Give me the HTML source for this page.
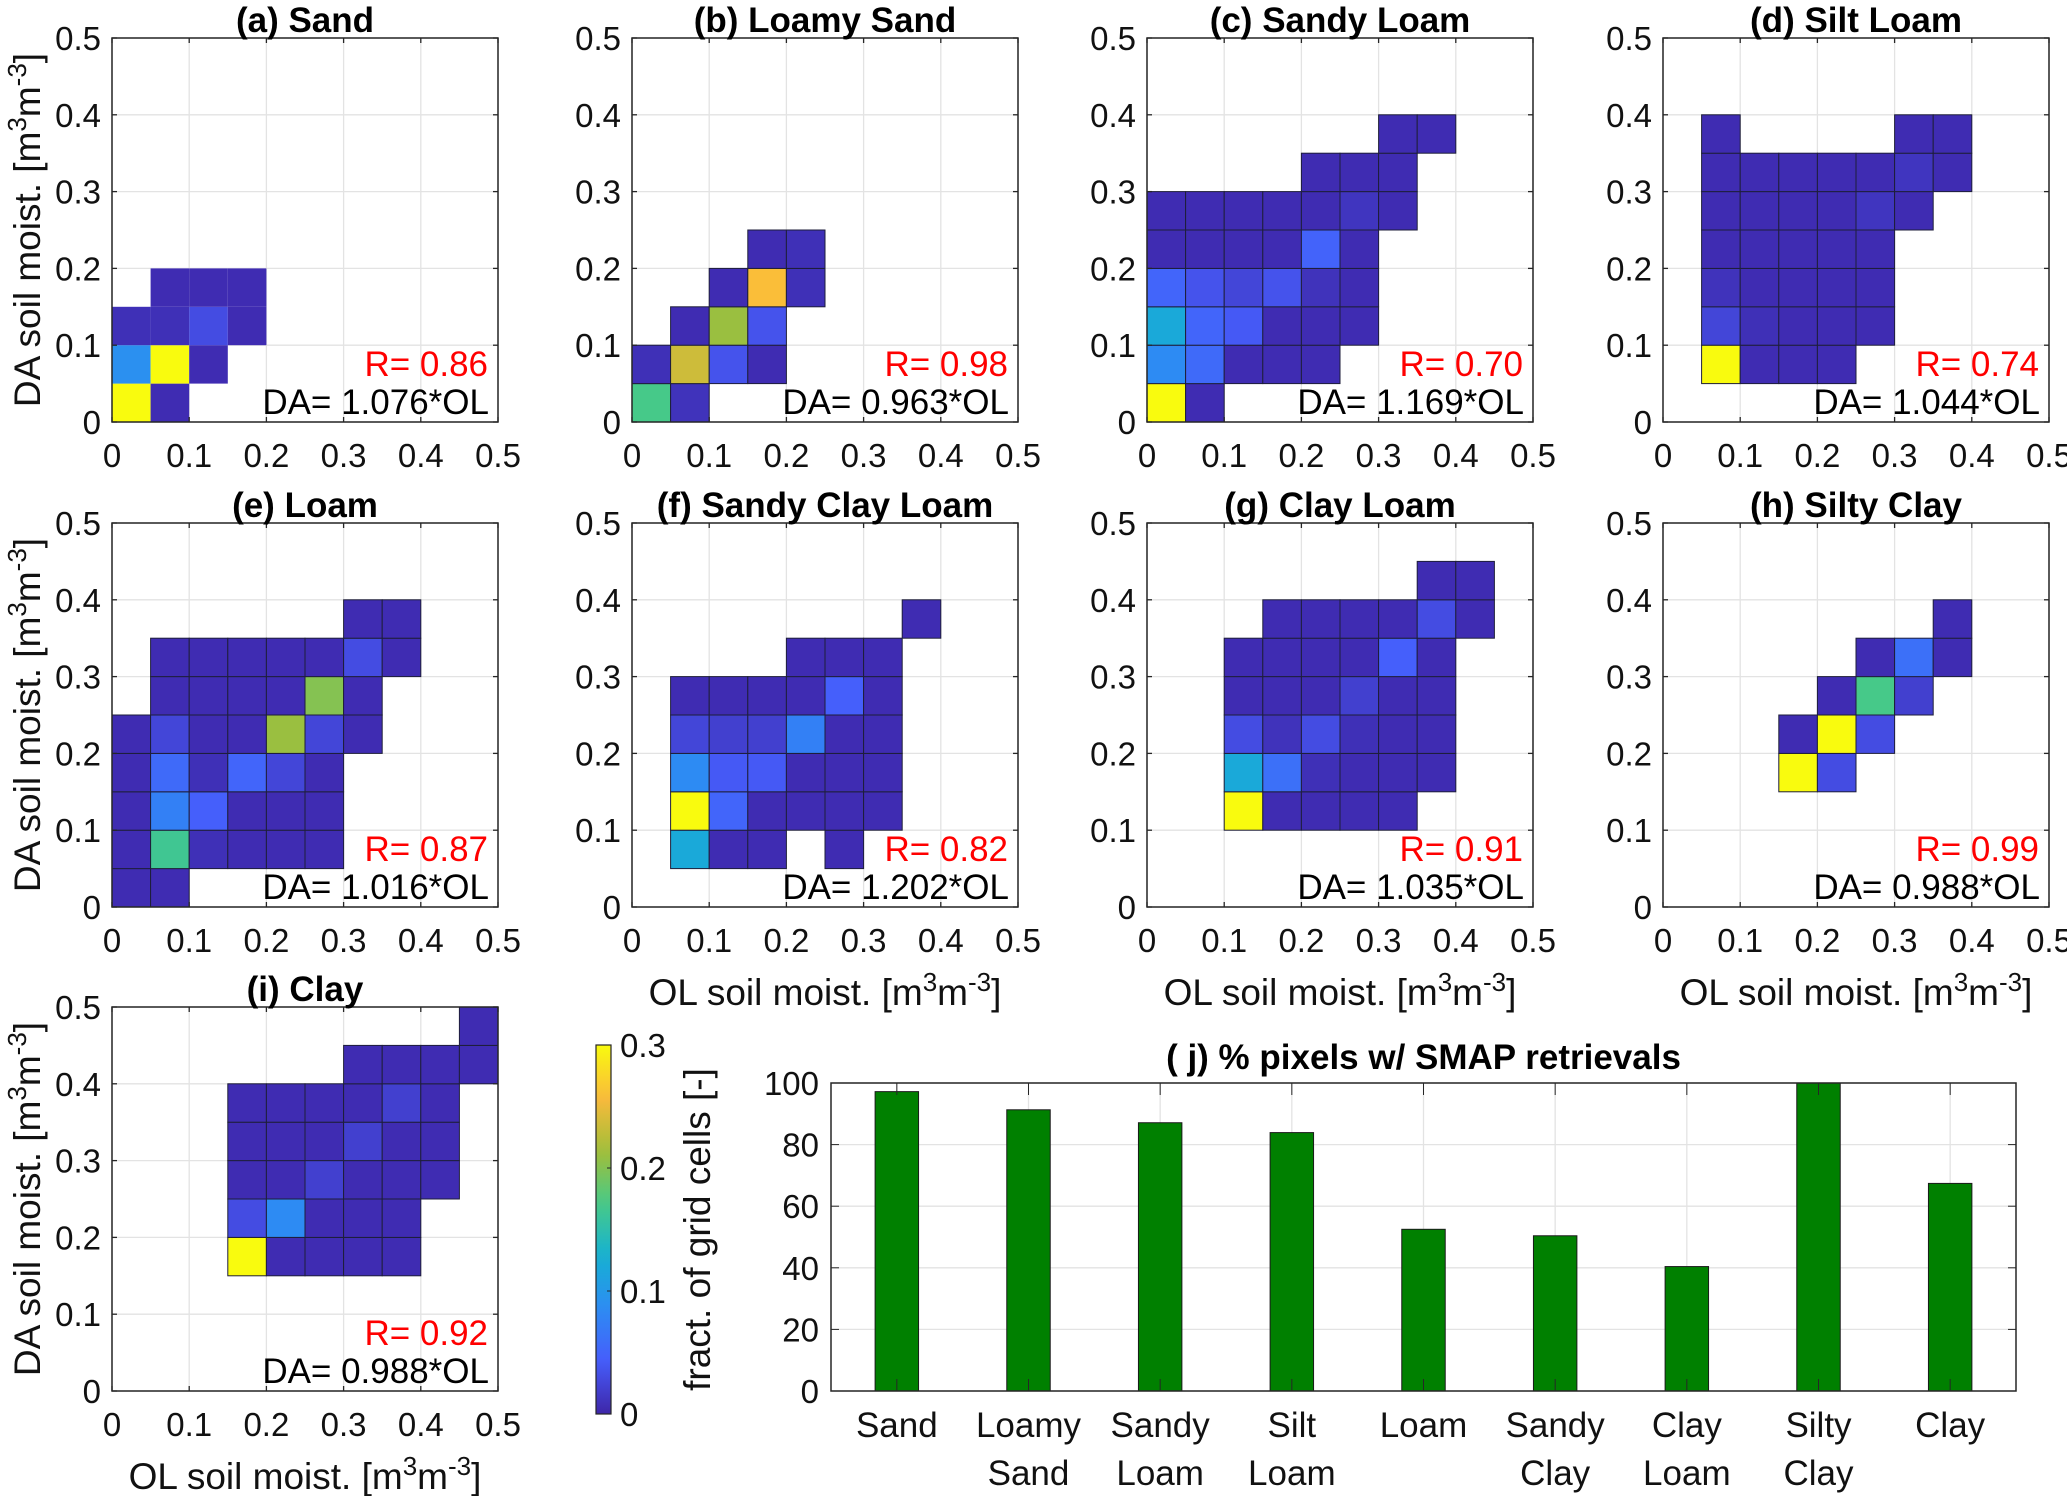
<!DOCTYPE html>
<html><head><meta charset="utf-8">
<style>
html,body{margin:0;padding:0;background:#fff;}
svg{display:block;font-family:"Liberation Sans",Arial,sans-serif;}
</style></head>
<body>
<svg id="fig" width="2067" height="1496" viewBox="0 0 2067 1496" xmlns="http://www.w3.org/2000/svg"></svg>
<script>
// ---------- Data ----------
const panelTitles = ["(a) Sand","(b) Loamy Sand","(c) Sandy Loam","(d) Silt Loam","(e) Loam","(f) Sandy Clay Loam","(g) Clay Loam","(h) Silty Clay","(i) Clay"];
const panelR = ["0.86","0.98","0.70","0.74","0.87","0.82","0.91","0.99","0.92"];
const panelSlope = ["1.076","0.963","1.169","1.044","1.016","1.202","1.035","0.988","0.988"];
// cells: [x bin index (0.05), y bin index (0.05), fraction]
const cellsA = [[0,0,0.3],[1,0,0.005],[0,1,0.09],[1,1,0.3],[2,1,0.005],[0,2,0.008],[1,2,0.008],[2,2,0.03],[3,2,0.005],[1,3,0.005],[2,3,0.005],[3,3,0.005]];
const cellsB = [[0,0,0.17],[1,0,0.01],[0,1,0.008],[1,1,0.235],[2,1,0.035],[3,1,0.005],[1,2,0.005],[2,2,0.21],[3,2,0.035],[2,3,0.005],[3,3,0.26],[4,3,0.008],[3,4,0.005],[4,4,0.008]];
const cellsC = [[0,0,0.3],[1,0,0.005],[0,1,0.085],[1,1,0.055],[2,1,0.005],[3,1,0.005],[4,1,0.005],
 [0,2,0.12],[1,2,0.05],[2,2,0.04],[3,2,0.005],[4,2,0.005],[5,2,0.005],
 [0,3,0.05],[1,3,0.035],[2,3,0.025],[3,3,0.035],[4,3,0.01],[5,3,0.005],
 [0,4,0.005],[1,4,0.005],[2,4,0.005],[3,4,0.005],[4,4,0.048],[5,4,0.005],
 [0,5,0.005],[1,5,0.005],[2,5,0.005],[3,5,0.005],[4,5,0.005],[5,5,0.012],[6,5,0.005],
 [4,6,0.005],[5,6,0.005],[6,6,0.005],[6,7,0.005],[7,7,0.005]];
const cellsD = [[1,1,0.3],[2,1,0.005],[3,1,0.005],[4,1,0.005],
 [1,2,0.025],[2,2,0.008],[3,2,0.005],[4,2,0.005],[5,2,0.005],
 [1,3,0.01],[2,3,0.005],[3,3,0.005],[4,3,0.005],[5,3,0.005],
 [1,4,0.005],[2,4,0.005],[3,4,0.005],[4,4,0.005],[5,4,0.005],
 [1,5,0.005],[2,5,0.005],[3,5,0.005],[4,5,0.005],[5,5,0.012],[6,5,0.005],
 [1,6,0.005],[2,6,0.005],[3,6,0.005],[4,6,0.005],[5,6,0.005],[6,6,0.012],[7,6,0.005],
 [1,7,0.005],[6,7,0.005],[7,7,0.005]];
const cellsE = [[0,0,0.005],[1,0,0.005],
 [0,1,0.005],[1,1,0.165],[2,1,0.008],[3,1,0.005],[4,1,0.005],[5,1,0.005],
 [0,2,0.005],[1,2,0.075],[2,2,0.045],[3,2,0.005],[4,2,0.005],[5,2,0.005],
 [0,3,0.005],[1,3,0.055],[2,3,0.008],[3,3,0.05],[4,3,0.025],[5,3,0.005],
 [0,4,0.005],[1,4,0.025],[2,4,0.005],[3,4,0.005],[4,4,0.21],[5,4,0.025],[6,4,0.005],
 [1,5,0.005],[2,5,0.005],[3,5,0.005],[4,5,0.005],[5,5,0.2],[6,5,0.005],
 [1,6,0.005],[2,6,0.005],[3,6,0.005],[4,6,0.005],[5,6,0.005],[6,6,0.03],[7,6,0.005],
 [6,7,0.005],[7,7,0.005]];
const cellsF = [[1,1,0.12],[2,1,0.005],[3,1,0.005],[5,1,0.005],
 [1,2,0.3],[2,2,0.05],[3,2,0.005],[4,2,0.005],[5,2,0.005],[6,2,0.005],
 [1,3,0.085],[2,3,0.04],[3,3,0.04],[4,3,0.005],[5,3,0.005],[6,3,0.005],
 [1,4,0.025],[2,4,0.02],[3,4,0.02],[4,4,0.075],[5,4,0.005],[6,4,0.005],
 [1,5,0.005],[2,5,0.005],[3,5,0.005],[4,5,0.005],[5,5,0.045],[6,5,0.005],
 [4,6,0.005],[5,6,0.005],[6,6,0.005],[7,7,0.005]];
const cellsG = [[2,2,0.3],[3,2,0.005],[4,2,0.005],[5,2,0.005],[6,2,0.005],
 [2,3,0.12],[3,3,0.06],[4,3,0.008],[5,3,0.005],[6,3,0.005],[7,3,0.005],
 [2,4,0.03],[3,4,0.01],[4,4,0.03],[5,4,0.008],[6,4,0.005],[7,4,0.005],
 [2,5,0.005],[3,5,0.005],[4,5,0.005],[5,5,0.02],[6,5,0.005],[7,5,0.005],
 [2,6,0.005],[3,6,0.005],[4,6,0.005],[5,6,0.005],[6,6,0.045],[7,6,0.005],
 [3,7,0.005],[4,7,0.005],[5,7,0.005],[6,7,0.005],[7,7,0.03],[8,7,0.005],
 [7,8,0.005],[8,8,0.005]];
const cellsH = [[3,3,0.3],[4,3,0.03],[3,4,0.005],[4,4,0.3],[5,4,0.03],[4,5,0.005],[5,5,0.17],[6,5,0.02],[5,6,0.005],[6,6,0.06],[7,6,0.005],[7,7,0.005]];
const cellsI = [[3,3,0.3],[4,3,0.005],[5,3,0.005],[6,3,0.005],[7,3,0.005],
 [3,4,0.03],[4,4,0.085],[5,4,0.005],[6,4,0.005],[7,4,0.005],
 [3,5,0.005],[4,5,0.005],[5,5,0.02],[6,5,0.005],[7,5,0.005],[8,5,0.005],
 [3,6,0.005],[4,6,0.005],[5,6,0.005],[6,6,0.02],[7,6,0.005],[8,6,0.005],
 [3,7,0.005],[4,7,0.005],[5,7,0.005],[6,7,0.005],[7,7,0.02],[8,7,0.005],
 [6,8,0.005],[7,8,0.005],[8,8,0.005],[9,8,0.005],[9,9,0.005]];
const axisTicks = [0,0.1,0.2,0.3,0.4,0.5];
const axisTickLabels = ["0","0.1","0.2","0.3","0.4","0.5"];
const cbTicks = [0,0.1,0.2,0.3];
const cbTickLabels = ["0","0.1","0.2","0.3"];
const barCategories = [["Sand"],["Loamy","Sand"],["Sandy","Loam"],["Silt","Loam"],["Loam"],["Sandy","Clay"],["Clay","Loam"],["Silty","Clay"],["Clay"]];
const barValues = [97.2,91.3,87.1,83.9,52.5,50.4,40.4,100,67.4];
const barTicks = [0,20,40,60,80,100];
const barTickLabels = ["0","20","40","60","80","100"];

// ---------- Helpers ----------
const NS="http://www.w3.org/2000/svg";
const svg=document.getElementById('fig');
function mk(tag,attrs,parent,text){const e=document.createElementNS(NS,tag);for(const k in attrs)e.setAttribute(k,attrs[k]);if(text!==undefined)e.textContent=text;(parent||svg).appendChild(e);return e;}
const parulaStops=[[0,62,38,168],[0.143,70,93,251],[0.286,45,140,243],[0.429,21,177,210],[0.571,72,202,135],[0.714,163,190,56],[0.857,250,186,60],[1,249,251,14]];
function parula(v){let t=Math.max(0,Math.min(1,v/0.3));for(let i=1;i<parulaStops.length;i++){const a=parulaStops[i-1],b=parulaStops[i];if(t<=b[0]){const f=(t-a[0])/(b[0]-a[0]);return `rgb(${Math.round(a[1]+f*(b[1]-a[1]))},${Math.round(a[2]+f*(b[2]-a[2]))},${Math.round(a[3]+f*(b[3]-a[3]))})`;}}return 'rgb(249,251,14)';}
const UNIT='[m<tspan dy="-14" font-size="26">3</tspan><tspan dy="14">m</tspan><tspan dy="-14" font-size="26">-3</tspan><tspan dy="14">]</tspan>';
const TF=33; // tick font

const allCells=[cellsA,cellsB,cellsC,cellsD,cellsE,cellsF,cellsG,cellsH,cellsI];
const colX=[112,632,1147,1663], rowY=[38,523,1007];
const W=386, H=384;

allCells.forEach((cells,p)=>{
  const col=p<8?p%4:0,row=p<8?Math.floor(p/4):2;
  const x0=colX[col],y0=rowY[row];
  const g=mk('g',{});
  
  
  const sx=v=>x0+v/0.5*W, sy=v=>y0+H-v/0.5*H;
  axisTicks.forEach(t=>{
    mk('line',{x1:sx(t),x2:sx(t),y1:y0,y2:y0+H,stroke:'#e3e3e3','stroke-width':1.3},g);
    mk('line',{x1:x0,x2:x0+W,y1:sy(t),y2:sy(t),stroke:'#e3e3e3','stroke-width':1.3},g);
  });
  cells.forEach(c=>{
    const r=mk('rect',{x:sx(c[0]*0.05),y:sy((c[1]+1)*0.05),width:sx(0.05)-sx(0),height:sy(0)-sy(0.05),fill:parula(c[2]),stroke:p===0?'none':'#1e1e3a','stroke-width':1},g);
    
    
  });
  mk('rect',{x:x0,y:y0,width:W,height:H,fill:'none',stroke:'#262626','stroke-width':1.5},g);
  axisTicks.forEach((t,i)=>{
    mk('line',{x1:sx(t),x2:sx(t),y1:y0+H,y2:y0+H-5,stroke:'#262626','stroke-width':1.3},g);
    mk('line',{x1:sx(t),x2:sx(t),y1:y0,y2:y0+5,stroke:'#262626','stroke-width':1.3},g);
    mk('line',{x1:x0,x2:x0+5,y1:sy(t),y2:sy(t),stroke:'#262626','stroke-width':1.3},g);
    mk('line',{x1:x0+W,x2:x0+W-5,y1:sy(t),y2:sy(t),stroke:'#262626','stroke-width':1.3},g);
    mk('text',{x:sx(t),y:y0+H+45,'text-anchor':'middle','font-size':TF,fill:'#111'},g,axisTickLabels[i]);
    mk('text',{x:x0-11,y:sy(t)+12,'text-anchor':'end','font-size':TF,fill:'#111'},g,axisTickLabels[i]);
  });
  const tt=mk('text',{x:x0+W/2,y:y0-6,'text-anchor':'middle','font-size':35,'font-weight':'bold',fill:'#000'},g,panelTitles[p]);
  
  
  mk('text',{x:x0+W-10,y:y0+H-46,'text-anchor':'end','font-size':35,fill:'#ff0000'},g,'R= '+panelR[p]);
  mk('text',{x:x0+W-9,y:y0+H-8,'text-anchor':'end','font-size':35,fill:'#000'},g,'DA= '+panelSlope[p]+'*OL');
  if(col===0){
    const yl=mk('text',{transform:`translate(${x0-72},${y0+H/2}) rotate(-90)`,'text-anchor':'middle','font-size':37,fill:'#111'},g);
    
    
    yl.innerHTML='DA soil moist. '+UNIT;
  }
  if(p>=5){
    const xl=mk('text',{x:x0+W/2,y:y0+H+98,'text-anchor':'middle','font-size':37,fill:'#111'},g);
    
    
    xl.innerHTML='OL soil moist. '+UNIT;
  }
});

// ---------- Colorbar ----------
(function(){
  const g=mk('g',{});
  
  
  const cx=596,cy=1045,cw=15,ch=369;
  const defs=mk('defs',{},g);
  const lg=mk('linearGradient',{id:'par',x1:0,y1:1,x2:0,y2:0},defs);
  for(let i=0;i<=20;i++){mk('stop',{offset:(i/20),'stop-color':parula(0.3*i/20)},lg);}
  mk('rect',{x:cx,y:cy,width:cw,height:ch,fill:'url(#par)',stroke:'#262626','stroke-width':1.2},g);
  cbTicks.forEach((t,i)=>{
    const y=cy+ch-t/0.3*ch;
    mk('line',{x1:cx+cw,x2:cx+cw-4,y1:y,y2:y,stroke:'#262626'},g);
    mk('text',{x:cx+24,y:y+12,'font-size':TF,fill:'#111'},g,cbTickLabels[i]);
  });
  const t=mk('text',{transform:`translate(${710},${cy+ch/2}) rotate(-90)`,'text-anchor':'middle','font-size':37,fill:'#111'},g,'fract. of grid cells [-]');
  
  
})();

// ---------- Bar chart ----------
(function(){
  const g=mk('g',{});
  
  
  const x0=831,x1=2016,y0=1083,y1=1391;
  const bx=i=>x0+(i+0.5)/barValues.length*(x1-x0);
  const by=v=>y1-v/100*(y1-y0);
  const step=(x1-x0)/barValues.length;
  barTicks.forEach(t=>mk('line',{x1:x0,x2:x1,y1:by(t),y2:by(t),stroke:'#e3e3e3','stroke-width':1.3},g));
  barValues.forEach((v,i)=>mk('line',{x1:bx(i),x2:bx(i),y1:y0,y2:y1,stroke:'#e3e3e3','stroke-width':1.3},g));
  barValues.forEach((v,i)=>{
    const r=mk('rect',{x:bx(i)-step*0.165,y:by(v),width:step*0.33,height:by(0)-by(v),fill:'#008000',stroke:'#1a1a1a','stroke-width':1},g);
    
    
    barCategories[i].forEach((l,k)=>mk('text',{x:bx(i),y:y1+46+k*48,'text-anchor':'middle','font-size':35,fill:'#111'},g,l));
    mk('line',{x1:bx(i),x2:bx(i),y1:y1,y2:y1-12,stroke:'#262626'},g);
    mk('line',{x1:bx(i),x2:bx(i),y1:y0,y2:y0+12,stroke:'#262626'},g);
  });
  mk('rect',{x:x0,y:y0,width:x1-x0,height:y1-y0,fill:'none',stroke:'#262626','stroke-width':1.5},g);
  barTicks.forEach((t,i)=>{
    mk('line',{x1:x0,x2:x0+8,y1:by(t),y2:by(t),stroke:'#262626'},g);
    mk('line',{x1:x1,x2:x1-8,y1:by(t),y2:by(t),stroke:'#262626'},g);
    mk('text',{x:x0-12,y:by(t)+12,'text-anchor':'end','font-size':TF,fill:'#111'},g,barTickLabels[i]);
  });
  const t=mk('text',{x:(x0+x1)/2,y:y0-14,'text-anchor':'middle','font-size':35,'font-weight':'bold',fill:'#000'},g,'( j) % pixels w/ SMAP retrievals');
  
  
})();
</script>
</body></html>
